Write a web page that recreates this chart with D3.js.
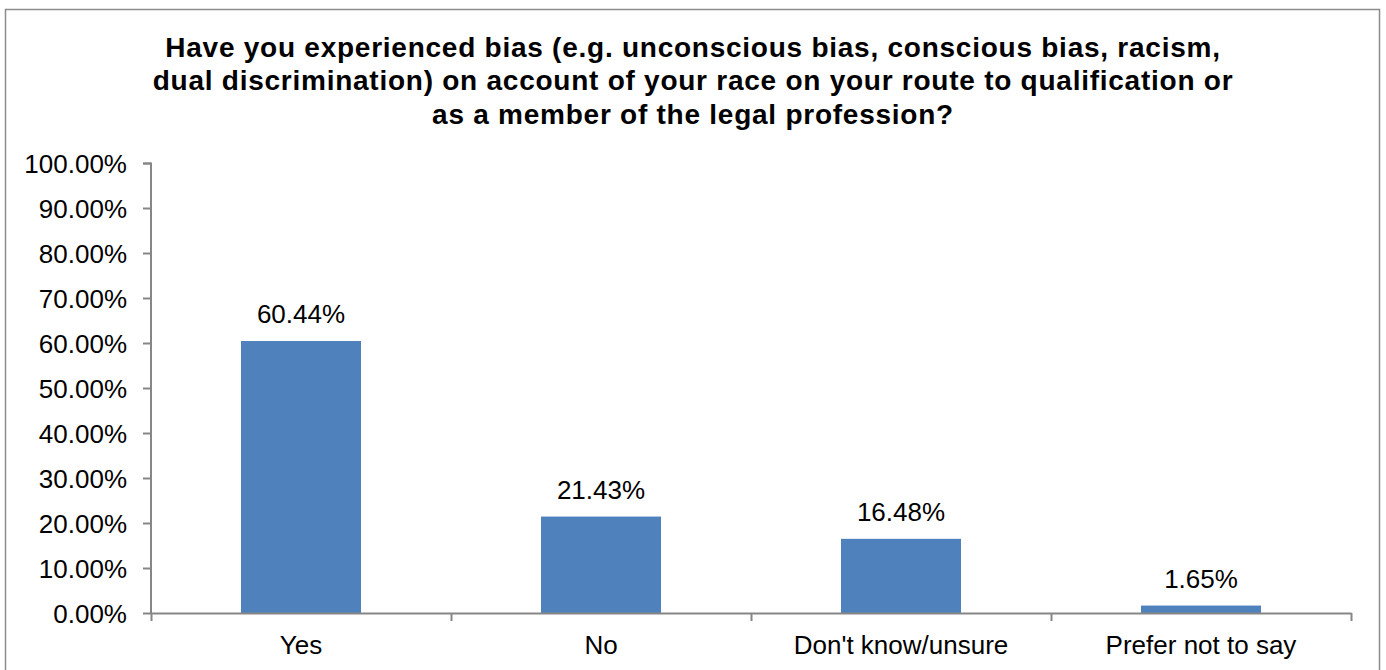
<!DOCTYPE html>
<html><head><meta charset="utf-8">
<script src="https://cdn.jsdelivr.net/npm/d3@7"></script>
<style>body{margin:0;background:#fff}svg{display:block}text{font-family:"Liberation Sans",Arial,sans-serif}</style>
</head><body><svg id="c" width="1386" height="670"></svg>
<script>
const categories = ["Yes","No","Don't know/unsure","Prefer not to say"];
const values = [60.44,21.43,16.48,1.65];
const yTicks = [0,10,20,30,40,50,60,70,80,90,100];
const titleLines = ["Have you experienced bias (e.g. unconscious bias, conscious bias, racism,","dual discrimination) on account of your race on your route to qualification or","as a member of the legal profession?"];

const svg = d3.select("#c");
svg.append("rect").attr("x",5.5).attr("y",9.5).attr("width",1374).attr("height",680)
  .attr("fill","#fff").attr("stroke","#8c8c8c").attr("stroke-width",1.5);

const x = d3.scaleBand().domain(categories).range([151,1351]).paddingInner(0.6).paddingOuter(0.3);
const y = d3.scaleLinear().domain([0,100]).range([613,163]);

svg.append("g").selectAll("text").data(titleLines).join("text")
  .attr("x",693).attr("y",(d,i)=>56.5+i*33.5).attr("text-anchor","middle")
  .attr("font-weight","bold").attr("font-size",28).attr("letter-spacing","0.75px")
  .attr("fill","#000").text(d=>d);

svg.append("g").selectAll("rect").data(values).join("rect")
  .attr("x",(d,i)=>x(categories[i])).attr("width",x.bandwidth())
  .attr("y",d=>y(d)).attr("height",d=>y(0)-y(d)).attr("fill","#4f81bd");

svg.append("g").selectAll("text").data(values).join("text")
  .attr("x",(d,i)=>x(categories[i])+x.bandwidth()/2).attr("y",d=>y(d)-18)
  .attr("text-anchor","middle").attr("font-size",26).attr("fill","#000")
  .text(d=>d.toFixed(2)+"%");

const yAxis = d3.axisLeft(y).tickValues(yTicks).tickFormat(d=>d.toFixed(2)+"%").tickSize(8).tickPadding(16);
const gy = svg.append("g").attr("transform","translate(151,0)").call(yAxis);
gy.select(".domain").attr("stroke","#868686").attr("stroke-width",2).attr("d","M-8,163.5H0V613");
gy.selectAll(".tick line").attr("stroke","#868686").attr("stroke-width",2);
gy.selectAll(".tick text").attr("font-size",26).attr("fill","#000").attr("font-family","Liberation Sans, Arial, sans-serif").attr("dy","0.36em");

const xb = d3.scaleLinear().domain([0,4]).range([151,1351]);
const xAxis = d3.axisBottom(xb).tickValues([0,1,2,3,4]).tickFormat("").tickSize(8).tickSizeOuter(0);
const gx = svg.append("g").attr("transform","translate(0,613)").call(xAxis);
gx.select(".domain").attr("stroke","#868686").attr("stroke-width",2);
gx.selectAll(".tick line").attr("stroke","#868686").attr("stroke-width",2);

svg.append("g").selectAll("text").data(categories).join("text")
  .attr("x",d=>x(d)+x.bandwidth()/2).attr("y",653.5).attr("text-anchor","middle")
  .attr("font-size",26).attr("fill","#000").text(d=>d);
</script></body></html>
